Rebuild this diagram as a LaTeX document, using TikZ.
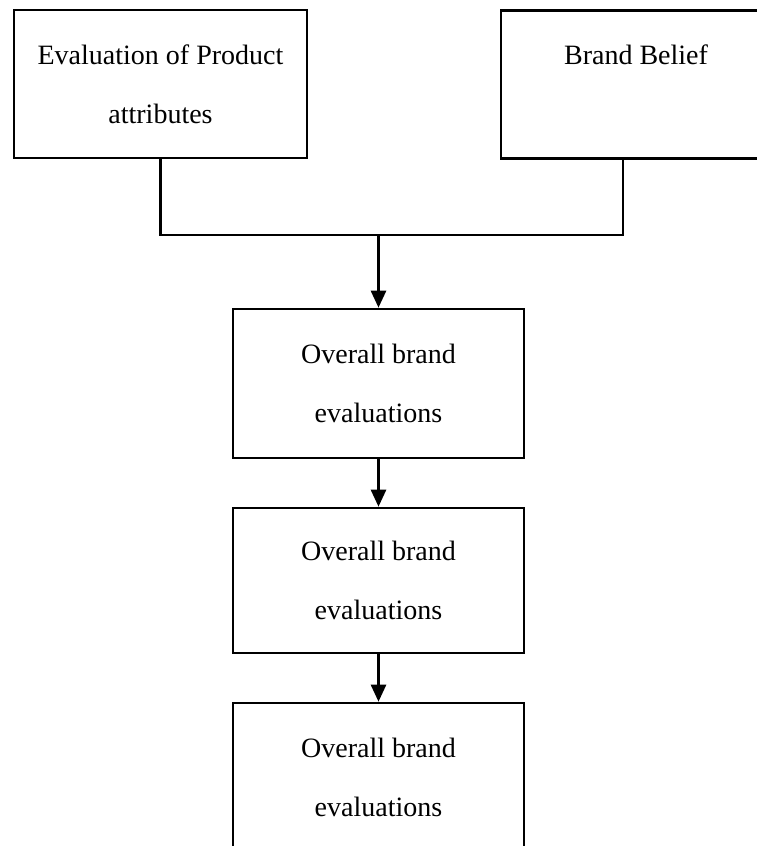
\documentclass[tikz,border=0pt]{standalone}
\usepackage{fontspec}
\setmainfont{Liberation Serif}
\usetikzlibrary{arrows.meta, positioning}

\begin{document}
\begin{tikzpicture}[x=1pt, y=-1pt,
  fbox/.style={draw, line width=2.6pt, align=center, inner sep=0pt,
               minimum height=148pt, font=\fontsize{28}{59}\selectfont},
  flow/.style={line width=2.6pt, -{Triangle[width=15pt, length=17pt]}},
  link/.style={line width=2.6pt},
]
\useasboundingbox (0,0) rectangle (757,846);
\clip (0,0) rectangle (757,846);
% --- inputs ---
\node[fbox, minimum width=293pt] (attr) at (160.5,84) {Evaluation of Product\\attributes};
\node[fbox, minimum width=270pt] (belief) at (636,84.5) {Brand Belief\\\phantom{x}};
% --- evaluations ---
\node[fbox, minimum width=291pt, minimum height=149pt] (eval1) at (378.5,383.5) {Overall brand\\evaluations};
\node[fbox, minimum width=291pt, minimum height=145pt] (eval2) at (378.5,580.5) {Overall brand\\evaluations};
\node[fbox, minimum width=291pt] (eval3) at (378.5,777) {Overall brand\\evaluations};
% --- connectors ---
\coordinate (join) at (eval1.north |- 0,235);
\draw[link] (attr.south) |- ([xshift=-13pt]belief.south |- join) -- ([xshift=-13pt]belief.south);
\draw[flow] (join) -- (eval1.north);
\draw[flow] (eval1) -- (eval2);
\draw[flow] (eval2) -- (eval3);
\end{tikzpicture}
\end{document}
